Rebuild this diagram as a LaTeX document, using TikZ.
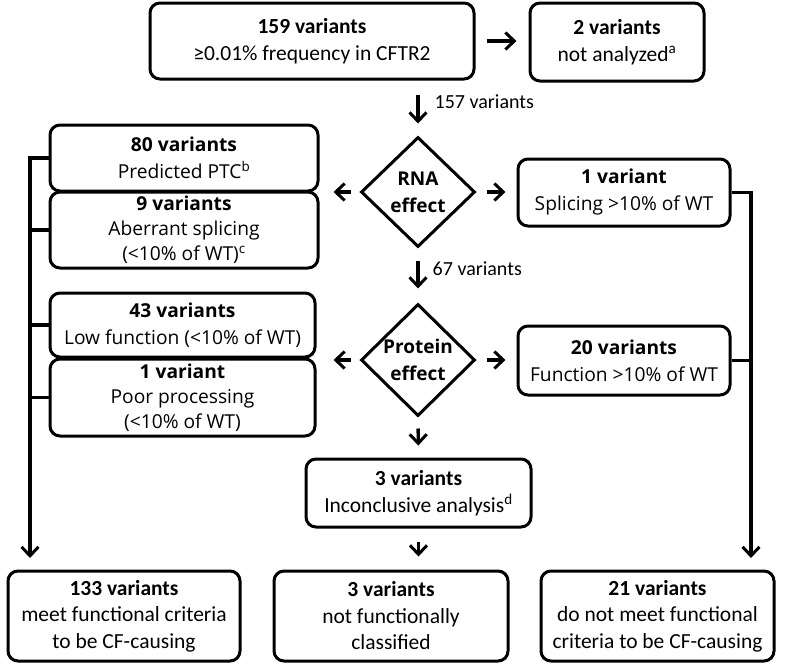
\documentclass[tikz,border=0pt]{standalone}
\usepackage{fontspec}
\setmainfont{Carlito}
\newfontfamily\osans{Open Sans}
\usetikzlibrary{shapes.geometric,arrows.meta}

\tikzset{
  box/.style={draw, line width=3pt, rounded corners=10pt, align=center,
    inner sep=0pt, font=\fontsize{21.5}{26.5}\selectfont},
  midbox/.style={box, font=\osans\fontsize{19.2}{27}\selectfont},
  decide/.style={draw, diamond, line width=3pt, inner sep=0pt, align=center,
    font=\osans\bfseries\fontsize{19}{27}\selectfont},
  arr/.style={line width=3.4pt, -{Straight Barb[length=9pt,width=17pt,line width=3pt]}},
  link/.style={line width=3.4pt},
  lbl/.style={font=\fontsize{20}{24}\selectfont, right, inner sep=0pt}
}

\begin{document}
\begin{tikzpicture}[x=1pt, y=-1pt]
    \useasboundingbox (0,0) rectangle (800,664);
    % top row
    \node[box, minimum width=324pt, minimum height=76pt] (top) at (312,41)
          {\textbf{159 variants}\\≥0.01\% frequency in CFTR2};
    \node[box, minimum width=174pt, minimum height=78pt] (na) at (617,42)
          {\textbf{2 variants}\\not analyzed\textsuperscript{a}};
    % decisions
    \node[decide, minimum width=114pt, minimum height=110pt] (rna) at (418,192)
          {\makebox[0pt]{RNA}\\\makebox[0pt]{effect}};
    \node[decide, minimum width=114pt, minimum height=112pt] (prot) at (418,360)
          {\makebox[0pt]{Protein}\\\makebox[0pt]{effect}};
    % left side
    \node[midbox, minimum width=268pt, minimum height=66pt] (ptc) at (184,158)
          {\textbf{80 variants}\\Predicted PTC\textsuperscript{b}};
    \node[midbox, minimum width=268pt, minimum height=76pt,
          font=\osans\fontsize{19.2}{25}\selectfont] (abspl) at (184,230)
          {\textbf{9 variants}\\Aberrant splicing\\(<10\% of WT)\textsuperscript{c}};
    \node[midbox, minimum width=265pt, minimum height=64pt] (lowfn) at (182.5,325)
          {\textbf{43 variants}\\Low function (<10\% of WT)};
    \node[midbox, minimum width=265pt, minimum height=77pt,
          font=\osans\fontsize{19.2}{25}\selectfont] (poor) at (182.5,397.5)
          {\textbf{1 variant}\\Poor processing\\(<10\% of WT)};
    % right side
    \node[midbox, minimum width=212pt, minimum height=67pt] (splok) at (624,192.5)
          {\textbf{1 variant}\\Splicing >10\% of WT};
    \node[midbox, minimum width=212pt, minimum height=69pt] (fnok) at (624,360.5)
          {\textbf{20 variants}\\Function >10\% of WT};
    % middle
    \node[box, minimum width=225pt, minimum height=68pt] (incl) at (418.5,493)
          {\textbf{3 variants}\\Inconclusive analysis\textsuperscript{d}};
    % bottom row
    \node[box, minimum width=232pt, minimum height=90pt] (cf) at (124,616)
          {\textbf{133 variants}\\meet functional criteria\\to be CF-causing};
    \node[box, minimum width=234pt, minimum height=90pt] (ncl) at (391,616)
          {\textbf{3 variants}\\not functionally\\classified};
    \node[box, minimum width=233pt, minimum height=90pt] (ncf) at (657.5,616)
          {\textbf{21 variants}\\do not meet functional\\criteria to be CF-causing};
    \coordinate (lend) at (30,558);
    \coordinate (rend) at (751,558);

    \draw[arr, shorten <=11pt, shorten >=12pt] (top.east) -- (top.east -| na.west);
    \draw[arr, shorten <=14pt, shorten >=12pt] (rna.north |- top.south) -- (rna.north)
          node[lbl, midway, xshift=15pt, yshift=6pt] {157 variants};
    \draw[arr, shorten <=12pt, shorten >=14pt] (rna.south) -- (prot.north)
          node[lbl, midway, xshift=13pt, yshift=7pt] {67 variants};
    \draw[arr, shorten <=11pt, shorten >=12pt] (prot.south) -- (incl.north);
    \draw[arr, shorten <=13pt, shorten >=13pt] (incl.south) -- (incl.south |- ncl.north);
    \draw[arr, shorten <=9pt, shorten >=14pt] (rna.west) -- (rna.west -| ptc.east);
    \draw[arr, shorten <=10pt, shorten >=11pt] (rna.east) -- (rna.east -| splok.west);
    \draw[arr, shorten <=9pt, shorten >=17pt] (prot.west) -- (prot.west -| lowfn.east);
    \draw[arr, shorten <=10pt, shorten >=11pt] (prot.east) -- (prot.east -| fnok.west);
    % collecting lines
    \draw[arr] (ptc.west) -| (lend);
    \draw[link] (abspl.west) -- (abspl.west -| lend)
                (lowfn.west) -- (lowfn.west -| lend)
                (poor.west) -- (poor.west -| lend);
    \draw[arr] (splok.east) -| (rend);
    \draw[link] (fnok.east) -- (fnok.east -| rend);
\end{tikzpicture}
\end{document}
